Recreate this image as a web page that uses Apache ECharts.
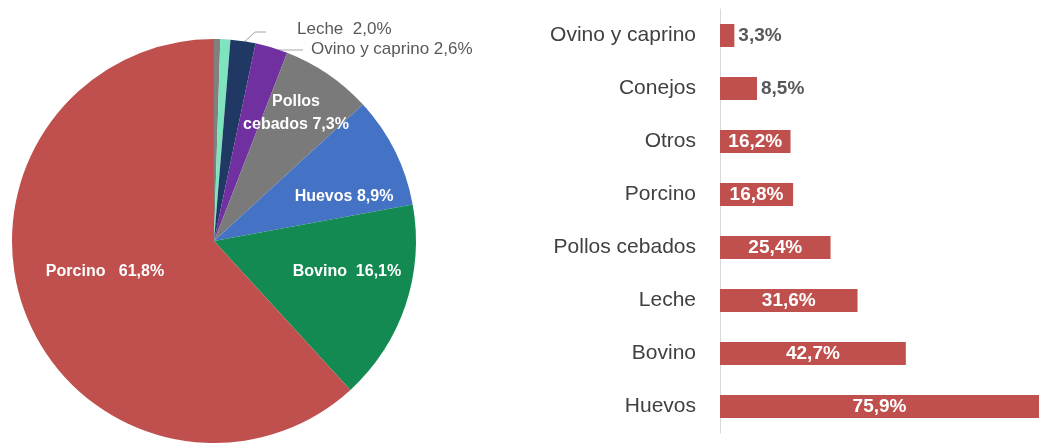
<!DOCTYPE html>
<html>
<head>
<meta charset="utf-8">
<script src="https://cdn.jsdelivr.net/npm/echarts@6/dist/echarts.min.js"></script>
<style>
  html, body { margin: 0; padding: 0; background: #fff; }
  #main { width: 1039px; height: 443px; }
</style>
</head>
<body>
<div id="main"></div>
<script>
  // reparto (%) - tarta
  var pieNames = ['Otros', 'Conejos', 'Leche', 'Ovino y caprino', 'Pollos cebados', 'Huevos', 'Bovino', 'Porcino'];
  var pieValues = [0.5, 0.8, 2.0, 2.6, 7.3, 8.9, 16.1, 61.8];
  var pieColors = ['#808080', '#7FE3BE', '#1F3864', '#7030A0', '#7A7A7A', '#4472C4', '#138A52', '#C0504D'];

  // variación (%) - barras
  var barCats = ['Ovino y caprino', 'Conejos', 'Otros', 'Porcino', 'Pollos cebados', 'Leche', 'Bovino', 'Huevos'];
  var barValues = [3.3, 8.5, 16.2, 16.8, 25.4, 31.6, 42.7, 75.9];

  var FONT = 'Liberation Sans';

  function fmt(v) {
    return v.toFixed(1).replace('.', ',') + '%';
  }

  // texto de etiqueta de la tarta
  function pieText(p) {
    var v = fmt(p.value);
    if (p.name === 'Porcino') return 'Porcino   ' + v;
    if (p.name === 'Bovino') return 'Bovino  ' + v;
    if (p.name === 'Leche') return 'Leche  ' + v;
    if (p.name === 'Pollos cebados') return 'Pollos\ncebados ' + v;
    return p.name + ' ' + v;
  }

  // colocación de etiquetas (px)
  var pieLabelPos = {
    2: { x: 297, y: 29, align: 'left', line: [[243, 43], [255, 32], [266, 32]] },
    3: { x: 311, y: 49, align: 'left', line: [[273, 50], [303, 50]] },
    4: { x: 296, y: 113 },
    5: { x: 344, y: 197 },
    6: { x: 347, y: 272 },
    7: { x: 105, y: 272 }
  };

  var pieData = pieNames.map(function (n, i) {
    var d = { name: n, value: pieValues[i], itemStyle: { color: pieColors[i] } };
    if (i < 2) {
      d.label = { show: false };
      d.labelLine = { show: false };
    } else if (i < 4) {
      d.label = { position: 'outside', color: '#595959', fontWeight: 'normal', fontSize: 17 };
      d.labelLine = { show: true, lineStyle: { color: '#A6A6A6', width: 1 } };
    }
    return d;
  });

  var barData = barValues.map(function (v) {
    if (v < 10) {
      return { value: v, label: { position: 'right', color: '#595959', distance: 4 } };
    }
    return v;
  });

  var myChart = echarts.init(document.getElementById('main'));
  myChart.setOption({
    animation: false,
    textStyle: { fontFamily: FONT },
    grid: { left: 720, right: 0, top: 9, bottom: 10 },
    xAxis: { type: 'value', min: 0, max: 73.3, show: false },
    yAxis: {
      type: 'category',
      inverse: true,
      data: barCats,
      axisLine: { show: true, lineStyle: { color: '#D9D9D9', width: 1 } },
      axisTick: { show: false },
      axisLabel: { fontSize: 21, color: '#404040', margin: 24, fontFamily: FONT }
    },
    series: [
      {
        type: 'pie',
        center: [214, 241],
        radius: 202,
        startAngle: 90,
        clockwise: true,
        avoidLabelOverlap: false,
        data: pieData,
        label: {
          show: true,
          position: 'inside',
          color: '#fff',
          fontWeight: 'bold',
          fontSize: 16,
          lineHeight: 23,
          fontFamily: FONT,
          formatter: pieText
        },
        labelLayout: function (p) {
          var o = pieLabelPos[p.dataIndex];
          if (!o) return {};
          var r = { x: o.x, y: o.y, align: o.align || 'center', verticalAlign: 'middle' };
          if (o.line) r.labelLinePoints = o.line;
          return r;
        }
      },
      {
        type: 'bar',
        data: barData,
        barWidth: 23,
        clip: true,
        itemStyle: { color: '#C0504D' },
        label: {
          show: true,
          position: 'inside',
          color: '#fff',
          fontWeight: 'bold',
          fontSize: 19,
          fontFamily: FONT,
          formatter: function (p) { return fmt(p.value); }
        }
      }
    ]
  });
</script>
</body>
</html>
